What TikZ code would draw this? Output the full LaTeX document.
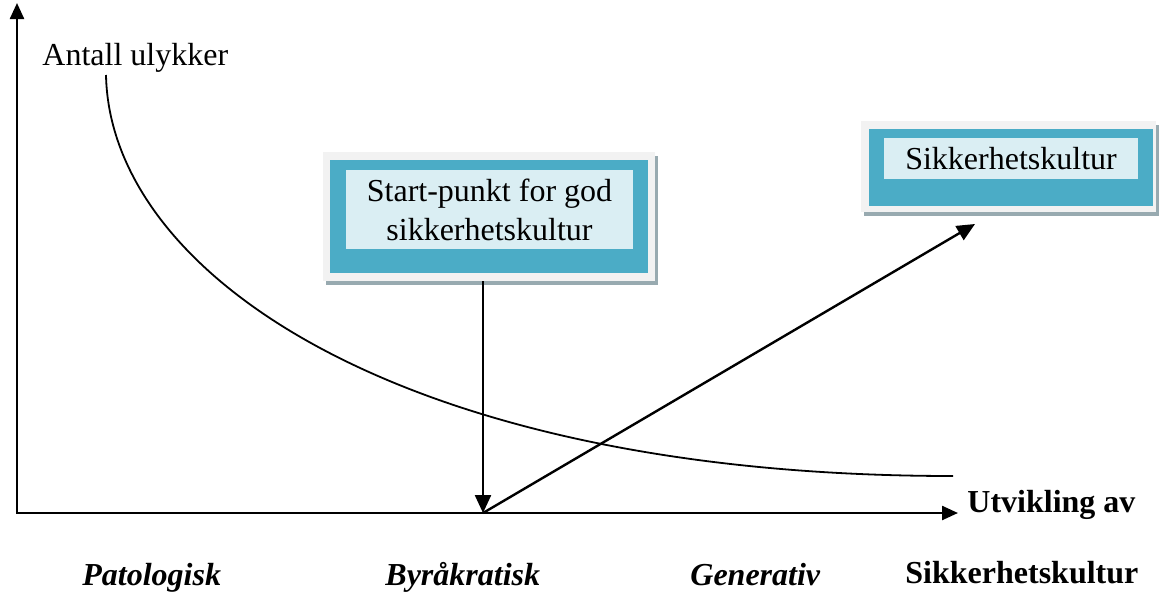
\documentclass[tikz,border=0pt]{standalone}
\usepackage{fontspec}
\setmainfont{Liberation Serif}
\usetikzlibrary{arrows.meta,shadows}
\definecolor{teal5}{HTML}{4BACC6}
\definecolor{paleblue}{HTML}{DAEEF3}
\definecolor{framegray}{HTML}{F2F2F2}
\definecolor{shadowgray}{HTML}{98AAB0}
\begin{document}
\begin{tikzpicture}[x=0.5pt,y=-0.5pt,
  axis/.style={line width=1.2pt},
  pointer/.style={line width=1.2pt,-{Triangle[length=9pt,width=8pt]}},
  trend/.style={line width=0.9pt},
  txt/.style={inner sep=0pt, font=\fontsize{16}{19.5}\selectfont},
  txtbf/.style={inner sep=0pt, font=\fontsize{16}{19.5}\selectfont\bfseries},
  txtbi/.style={inner sep=0pt, font=\fontsize{16}{19.5}\selectfont\bfseries\itshape},
  frame/.style={draw=none, fill=framegray, inner sep=0pt,
    general shadow={fill=shadowgray, shadow xshift=1.5pt, shadow yshift=-2pt}},
  band/.style={fill=teal5, inner sep=0pt},
  card/.style={fill=paleblue, inner sep=0pt, align=center,
    font=\fontsize{16}{19.5}\selectfont},
]
\path[use as bounding box] (0,0) rectangle (1160,594);

% boxes
\node[frame, minimum width=166pt, minimum height=64.5pt] (frame1) at (489,216.5) {};
\node[band, minimum width=159pt, minimum height=56.5pt] (band1) at (489,216.5) {};
\node[card, minimum width=143.5pt, minimum height=39.5pt] (card1) at (489.5,209.5)
  {Start-punkt for god\\sikkerhetskultur};

\node[frame, minimum width=147.5pt, minimum height=45.5pt] (frame2) at (1008.5,166.5) {};
\node[band, minimum width=142pt, minimum height=38.5pt] (band2) at (1011,167.5) {};
\node[card, minimum width=127pt, minimum height=20.5pt] (card2) at (1011,158.5)
  {Sikkerhetskultur};

% axes
\coordinate (O) at (17,513);
\coordinate (ytop) at (17,3);
\coordinate (xend) at (958,513);
\draw[axis, {Triangle[length=8pt,width=7pt]}-{Triangle[length=8pt,width=7pt]}]
  (ytop) -- (O) -- (xend);

% accident curve
\coordinate (c0) at (106,75);
\coordinate (c1) at (953,476);
\draw[trend] (c0) .. controls (110,275) and (403,476) .. (c1);

% arrows
\coordinate (base) at (483,513);
\coordinate (goal) at (975,224);
\draw[pointer] (base |- frame1.south) -- (base);
\draw[pointer] (base) -- (goal);

% labels
\node[txt, anchor=base west] (ylabel) at (42,65) {Antall ulykker};
\node[txtbf, anchor=base west] (xlabel) at (967,512) {Utvikling av};
\node[txtbf, anchor=base west] (xlabel2) at (905,583) {Sikkerhetskultur};
\node[txtbi, anchor=base west] (stage1) at (82,585) {Patologisk};
\node[txtbi, anchor=base west] (stage2) at (385,585) {Byråkratisk};
\node[txtbi, anchor=base west] (stage3) at (690,585) {Generativ};
\end{tikzpicture}
\end{document}
